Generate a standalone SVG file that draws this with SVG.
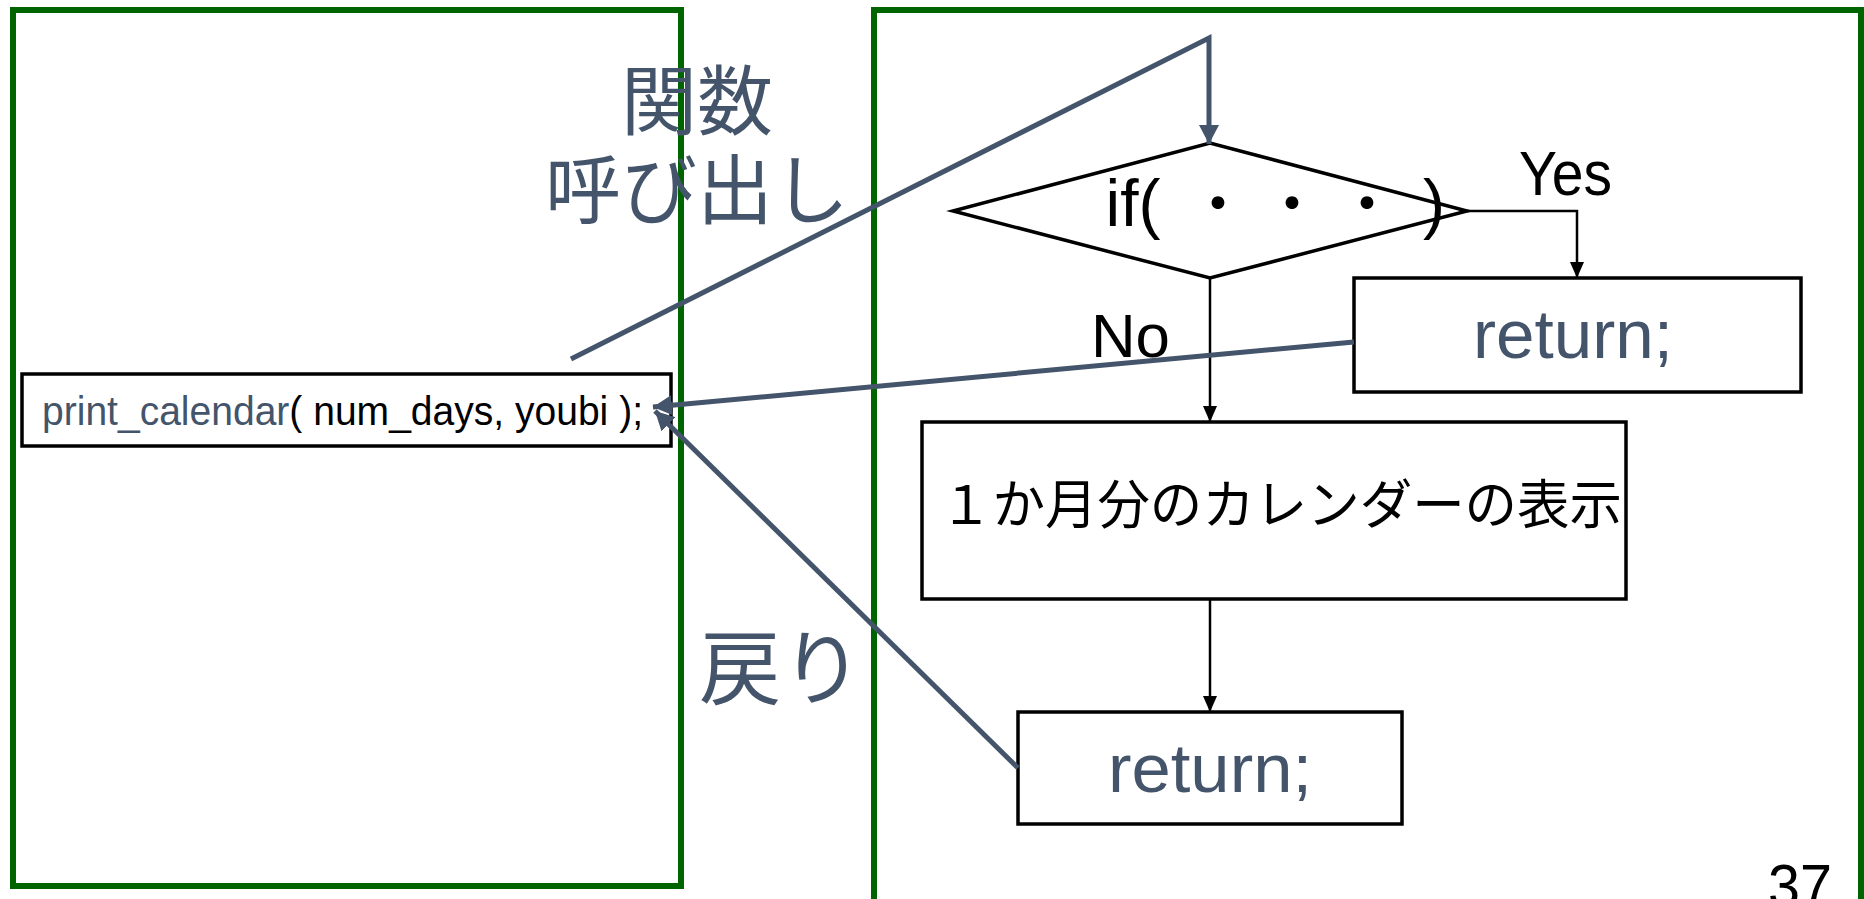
<svg xmlns="http://www.w3.org/2000/svg" width="1864" height="899" viewBox="0 0 1864 899">
<style>
.frame{fill:none;stroke:#006400;stroke-width:6}
.box{fill:#fff;stroke:#000;stroke-width:3.5}
.lat{font-family:"Liberation Sans Narrow","Liberation Sans",sans-serif}
.cjk{font-family:"Noto Sans CJK JP","Noto Sans CJK SC",sans-serif}
.gb{fill:#44546A}
.blk{fill:#000}
.cb{fill:none;stroke:#000;stroke-width:2.5}
.cg{fill:none;stroke:#44546A;stroke-width:5}
</style>
<defs>
<marker id="ab" markerUnits="userSpaceOnUse" markerWidth="16" markerHeight="14" refX="16" refY="7" orient="auto"><path d="M0,0 L16,7 L0,14 z" fill="#000"/></marker>
<marker id="ag" markerUnits="userSpaceOnUse" markerWidth="20" markerHeight="20" refX="19" refY="10" orient="auto"><path d="M0,0 L19,10 L0,20 z" fill="#44546A"/></marker>
</defs>
<rect width="1864" height="899" fill="#fff"/>
<g id="caller-frame"><rect class="frame" x="13" y="10" width="668" height="876"/></g>
<g id="callee-frame"><rect class="frame" x="874" y="10" width="987" height="950"/></g>
<g id="call-stmt">
<rect class="box" x="22" y="374" width="649" height="72"/>
<text class="lat" x="42" y="425" font-size="41" textLength="601" lengthAdjust="spacingAndGlyphs"><tspan class="gb">print_calendar</tspan><tspan class="blk">( num_days, youbi );</tspan></text>
</g>
<g id="label-call"><text class="cjk gb" x="697" y="129" font-size="76" text-anchor="middle"><tspan x="697">関数</tspan><tspan x="697" y="218">呼び出し</tspan></text></g>
<g id="label-return"><text class="cjk gb" x="781" y="698" font-size="82" text-anchor="middle">戻り</text></g>
<g id="decision">
<polygon class="box" points="953,211 1210,143 1467,211 1210,278"/>
<text class="blk" y="226" font-size="66" text-anchor="middle"><tspan class="lat" x="1133">if(</tspan><tspan class="cjk" x="1218" font-size="60">・</tspan><tspan class="cjk" x="1292" font-size="60">・</tspan><tspan class="cjk" x="1367" font-size="60">・</tspan><tspan class="lat" x="1434">)</tspan></text>
</g>
<g id="label-yes"><text class="lat blk" x="1519" y="195" font-size="63" textLength="93" lengthAdjust="spacingAndGlyphs">Yes</text></g>
<g id="label-no"><text class="lat blk" x="1091" y="357" font-size="62" textLength="79" lengthAdjust="spacingAndGlyphs">No</text></g>
<g id="return-yes">
<rect class="box" x="1354" y="278" width="447" height="114"/>
<text class="lat gb" x="1473" y="358" font-size="68" textLength="200" lengthAdjust="spacingAndGlyphs">return;</text>
</g>
<g id="show-calendar">
<rect class="box" x="922" y="422" width="704" height="177"/>
<text class="cjk blk" x="1281" y="524" font-size="53" text-anchor="middle" textLength="682" lengthAdjust="spacingAndGlyphs">１か月分のカレンダーの表示</text>
</g>
<g id="return-end">
<rect class="box" x="1018" y="712" width="384" height="112"/>
<text class="lat gb" x="1108" y="792" font-size="68" textLength="204" lengthAdjust="spacingAndGlyphs">return;</text>
</g>
<g id="page-number"><text class="lat blk" x="1768" y="907" font-size="62" textLength="64" lengthAdjust="spacingAndGlyphs">37</text></g>
<g id="connectors">
<polyline class="cb" points="1467,211 1577,211 1577,278" marker-end="url(#ab)"/>
<line class="cb" x1="1210" y1="278" x2="1210" y2="422" marker-end="url(#ab)"/>
<line class="cb" x1="1210" y1="599" x2="1210" y2="712" marker-end="url(#ab)"/>
<polyline class="cg" points="571,359 1209,38 1209,144" marker-end="url(#ag)"/>
<line class="cg" x1="1354" y1="342" x2="653" y2="407" marker-end="url(#ag)"/>
<line class="cg" x1="1018" y1="768" x2="655" y2="411" marker-end="url(#ag)"/>
</g>
</svg>
